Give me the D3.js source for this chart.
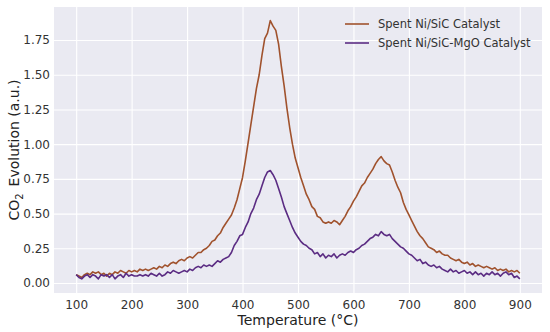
<!DOCTYPE html>
<html>
<head>
<meta charset="utf-8">
<script src="https://cdn.jsdelivr.net/npm/d3@7"></script>
<style>
  body { margin: 0; background: #fff; }
  svg text { font-family: "DejaVu Sans", sans-serif; }
</style>
</head>
<body>
<div id="chart"></div>
<script>
const width = 550;
const height = 332;
const margin = { top: 7, right: 8, bottom: 39, left: 54 };

// temperatures, 100..900 °C every 5 °C
const temps = d3.range(100, 901, 5);

// Spent Ni/SiC Catalyst
const sicValues = [
  0.06, 0.05, 0.04, 0.06, 0.07, 0.06, 0.08, 0.07, 0.08, 0.06,
  0.07, 0.05, 0.07, 0.06, 0.08, 0.07, 0.09, 0.08, 0.07, 0.09,
  0.08, 0.09, 0.08, 0.10, 0.09, 0.10, 0.09, 0.10, 0.11, 0.10,
  0.12, 0.11, 0.13, 0.12, 0.14, 0.15, 0.14, 0.16, 0.17, 0.16,
  0.18, 0.19, 0.18, 0.20, 0.22, 0.22, 0.24, 0.25, 0.27, 0.30,
  0.31, 0.34, 0.36, 0.40, 0.43, 0.46, 0.49, 0.54, 0.60, 0.68,
  0.76, 0.88, 1.01, 1.14, 1.27, 1.40, 1.50, 1.64, 1.76, 1.80,
  1.89, 1.85, 1.82, 1.72, 1.56, 1.42, 1.26, 1.12, 1.00, 0.90,
  0.83, 0.76, 0.70, 0.64, 0.60, 0.55, 0.53, 0.48, 0.47, 0.44,
  0.43, 0.44, 0.43, 0.45, 0.44, 0.42, 0.45, 0.48, 0.52, 0.55,
  0.59, 0.62, 0.66, 0.70, 0.72, 0.76, 0.79, 0.82, 0.86, 0.89,
  0.91, 0.88, 0.86, 0.85, 0.80, 0.74, 0.69, 0.65, 0.58, 0.53,
  0.49, 0.45, 0.41, 0.37, 0.34, 0.32, 0.29, 0.26, 0.25, 0.24,
  0.22, 0.23, 0.21, 0.20, 0.20, 0.18, 0.17, 0.16, 0.17, 0.15,
  0.14, 0.15, 0.13, 0.14, 0.12, 0.13, 0.12, 0.11, 0.12, 0.11,
  0.10, 0.11, 0.09, 0.10, 0.09, 0.10, 0.08, 0.09, 0.08, 0.09,
  0.07
];

// Spent Ni/SiC-MgO Catalyst
const mgoValues = [
  0.06, 0.04, 0.03, 0.05, 0.06, 0.04, 0.06, 0.05, 0.03, 0.06,
  0.05, 0.06, 0.04, 0.06, 0.03, 0.05, 0.06, 0.04, 0.07, 0.05,
  0.06, 0.05, 0.05, 0.06, 0.05, 0.06, 0.05, 0.07, 0.06, 0.05,
  0.07, 0.05, 0.06, 0.08, 0.07, 0.09, 0.08, 0.07, 0.08, 0.09,
  0.08, 0.10, 0.09, 0.11, 0.12, 0.11, 0.13, 0.12, 0.13, 0.12,
  0.14, 0.16, 0.15, 0.17, 0.18, 0.19, 0.22, 0.27, 0.30, 0.34,
  0.35, 0.40, 0.44, 0.50, 0.54, 0.60, 0.64, 0.70, 0.76, 0.80,
  0.81, 0.78, 0.74, 0.68, 0.62, 0.55, 0.50, 0.45, 0.40, 0.36,
  0.33, 0.30, 0.28, 0.27, 0.25, 0.24, 0.21, 0.22, 0.19, 0.21,
  0.18, 0.20, 0.19, 0.21, 0.18, 0.20, 0.21, 0.20, 0.22, 0.23,
  0.22, 0.24, 0.25, 0.27, 0.28, 0.30, 0.32, 0.33, 0.35, 0.34,
  0.37, 0.35, 0.34, 0.35, 0.32, 0.30, 0.28, 0.26, 0.25, 0.23,
  0.21, 0.20, 0.18, 0.16, 0.17, 0.14, 0.15, 0.13, 0.12, 0.13,
  0.11, 0.12, 0.10, 0.09, 0.08, 0.10, 0.08, 0.09, 0.07, 0.08,
  0.09, 0.07, 0.08, 0.06, 0.08, 0.06, 0.07, 0.05, 0.07, 0.06,
  0.08, 0.06, 0.07, 0.05, 0.07, 0.08, 0.06, 0.07, 0.04, 0.05,
  0.03
];

const seriesNames = ["Spent Ni/SiC Catalyst", "Spent Ni/SiC-MgO Catalyst"];
const seriesColors = ["#a0522d", "#5b2c83"];
const xTicks = [100, 200, 300, 400, 500, 600, 700, 800, 900];
const yTicks = [0, 0.25, 0.5, 0.75, 1.0, 1.25, 1.5, 1.75];

const series = [sicValues, mgoValues].map((vals, i) => ({
  name: seriesNames[i],
  color: seriesColors[i],
  points: temps.map((t, j) => ({ t, v: vals[j] })),
}));

const svg = d3
  .select("#chart")
  .append("svg")
  .attr("width", width)
  .attr("height", height);

const plotW = width - margin.left - margin.right;
const plotH = height - margin.top - margin.bottom;

const xScale = d3.scaleLinear().domain([60, 940]).range([0, plotW]);
const yScale = d3.scaleLinear().domain([-0.072, 1.988]).range([plotH, 0]);

const g = svg
  .append("g")
  .attr("transform", `translate(${margin.left}, ${margin.top})`);

// seaborn darkgrid background
g.append("rect")
  .attr("width", plotW)
  .attr("height", plotH)
  .attr("fill", "#eaeaf2");

// grid
const xAxis = d3.axisBottom(xScale).tickValues(xTicks).tickSize(-plotH).tickPadding(6);
const yAxis = d3
  .axisLeft(yScale)
  .tickValues(yTicks)
  .tickSize(-plotW)
  .tickPadding(4)
  .tickFormat(d3.format(".2f"));

const gx = g.append("g").attr("transform", `translate(0, ${plotH})`).call(xAxis);
const gy = g.append("g").call(yAxis);

[gx, gy].forEach((ax) => {
  ax.select(".domain").remove();
  ax.selectAll(".tick line").attr("stroke", "#fff").attr("stroke-width", 1.1);
  ax.selectAll(".tick text")
    .attr("fill", "#333")
    .style("font-size", "12px");
});
gx.selectAll(".tick text").attr("dy", "0.85em");

// lines
const line = d3
  .line()
  .x((d) => xScale(d.t))
  .y((d) => yScale(d.v));

g.selectAll(".series")
  .data(series)
  .enter()
  .append("path")
  .attr("class", "series")
  .attr("fill", "none")
  .attr("stroke", (d) => d.color)
  .attr("stroke-width", 1.6)
  .attr("stroke-linejoin", "round")
  .attr("d", (d) => line(d.points));

// legend
const legend = g.append("g").attr("transform", `translate(${plotW - 197}, 17)`);
series.forEach((s, i) => {
  const row = legend.append("g").attr("transform", `translate(0, ${i * 19})`);
  row.append("line")
    .attr("x1", 0)
    .attr("x2", 24)
    .attr("stroke", s.color)
    .attr("stroke-width", 1.6);
  row.append("text")
    .attr("x", 33)
    .attr("dy", "0.35em")
    .attr("fill", "#333")
    .style("font-size", "11.5px")
    .text(s.name);
});

// axis labels
svg.append("text")
  .attr("x", margin.left + plotW / 2)
  .attr("y", 325)
  .attr("text-anchor", "middle")
  .attr("fill", "#222")
  .style("font-size", "14px")
  .text("Temperature (°C)");

const yLabel = svg
  .append("text")
  .attr("transform", `translate(19, ${margin.top + plotH / 2}) rotate(-90)`)
  .attr("text-anchor", "middle")
  .attr("fill", "#222")
  .style("font-size", "14px");
yLabel.append("tspan").text("CO");
yLabel.append("tspan").attr("dy", 4).style("font-size", "10px").text("2");
yLabel.append("tspan").attr("dy", -4).text("\u2002Evolution (a.u.)");
</script>
</body>
</html>
